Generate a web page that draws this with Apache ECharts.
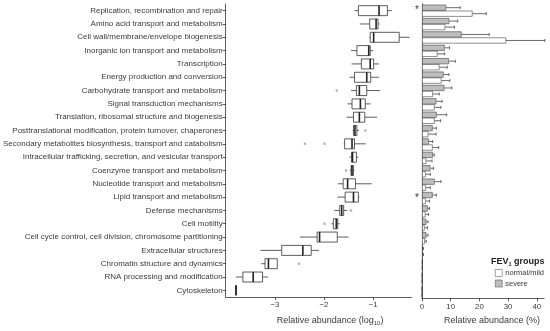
<!DOCTYPE html>
<html><head><meta charset="utf-8">
<script src="https://cdn.jsdelivr.net/npm/echarts@6/dist/echarts.min.js"></script>
<style>html,body{margin:0;padding:0;background:#fff}#c{width:550px;height:331px}</style>
</head><body><div id="c"></div>
<script>
const categories = [
 'Replication, recombination and repair','Amino acid transport and metabolism','Cell wall/membrane/envelope biogenesis',
 'Inorganic ion transport and metabolism','Transcription','Energy production and conversion',
 'Carbohydrate transport and metabolism','Signal transduction mechanisms','Translation, ribosomal structure and biogenesis',
 'Posttranslational modification, protein turnover, chaperones','Secondary metabolites biosynthesis, transport and catabolism',
 'Intracellular trafficking, secretion, and vesicular transport','Coenzyme transport and metabolism',
 'Nucleotide transport and metabolism','Lipid transport and metabolism','Defense mechanisms','Cell motility',
 'Cell cycle control, cell division, chromosome partitioning','Extracellular structures','Chromatin structure and dynamics',
 'RNA processing and modification','Cytoskeleton'];
// log10 relative abundance boxplot stats
const boxMin    = [-1.38,-1.27,-1.08,-1.45,-1.44,-1.48,-1.45,-1.52,-1.54,-1.42,-1.60,-1.48,-1.47,-1.72,-1.73,-1.79,-1.85,-2.49,-3.29,-3.28,-3.79,-3.79];
const boxQ1     = [-1.30,-1.07,-1.06,-1.33,-1.24,-1.38,-1.34,-1.43,-1.40,-1.40,-1.58,-1.44,-1.45,-1.61,-1.57,-1.68,-1.81,-2.14,-2.86,-3.20,-3.65,-3.79];
const boxMedian = [-0.88,-0.94,-0.99,-1.09,-1.06,-1.13,-1.28,-1.26,-1.28,-1.37,-1.43,-1.42,-1.43,-1.52,-1.40,-1.64,-1.75,-2.09,-2.43,-3.13,-3.44,-3.79];
const boxQ3     = [-0.71,-0.90,-0.47,-1.06,-0.99,-1.05,-1.13,-1.16,-1.17,-1.33,-1.38,-1.34,-1.40,-1.36,-1.30,-1.60,-1.72,-1.73,-2.26,-2.95,-3.25,-3.79];
const boxMax    = [-0.62,-0.87,-0.26,-1.00,-0.88,-0.88,-0.86,-1.05,-0.92,-1.29,-1.15,-1.30,-1.38,-1.03,-1.28,-1.53,-1.68,-1.50,-2.10,-2.95,-3.14,-3.79];
const outlierCat = [6, 9, 10, 10, 12, 15, 16, 19];
const outlierVal = [-1.74, -1.16, -2.39, -1.99, -1.55, -1.45, -1.99, -2.51];
// relative abundance (%) mean and mean+SD
const severeMean = [8.4, 9.5, 13.8, 7.9, 9.4, 7.5, 7.8, 5.0, 5.1, 3.7, 2.4, 3.8, 2.9, 4.4, 3.7, 2.0, 1.5, 1.5, 0.3, 0.1, 0.05, 0.02];
const severeErr  = [13.3, 12.4, 23.4, 9.6, 11.6, 9.4, 10.4, 7.0, 8.6, 5.0, 3.7, 4.3, 4.0, 6.6, 5.0, 2.6, 2.1, 2.1, 0.5, 0.15, 0.08, 0.03];
const normalMean = [17.6, 8.1, 29.3, 5.4, 6.1, 6.8, 3.8, 4.4, 4.4, 2.2, 3.7, 1.5, 1.3, 1.4, 1.3, 1.2, 0.9, 1.0, 0.3, 0.1, 0.05, 0.02];
const normalErr  = [22.4, 11.3, 42.8, 7.9, 8.8, 9.7, 6.0, 6.6, 6.5, 4.9, 5.8, 3.5, 2.9, 2.9, 2.6, 2.3, 1.9, 1.5, 0.5, 0.15, 0.08, 0.03];
const significant = [0, 14];
const logTicks = [-3, -2, -1];
const pctTicks = [0, 10, 20, 30, 40];

const FONT = 'Liberation Sans';
const TXT = '#3a3a3a';
const LINE = '#333';

const chart = echarts.init(document.getElementById('c'), null, {renderer: 'canvas'});

function boxRender(params, api) {
  const i = api.value(0);
  const band = api.size([0, 1])[1];
  const h = band * 0.75;
  const p = [1,2,3,4,5].map(k => api.coord([api.value(k), i])[0]);
  const yc = api.coord([api.value(1), i])[1];
  const st = {stroke: LINE, lineWidth: 0.8, fill: null};
  return {type: 'group', children: [
    {type: 'line', shape: {x1: p[0], y1: yc, x2: p[1], y2: yc}, style: st},
    {type: 'line', shape: {x1: p[3], y1: yc, x2: p[4], y2: yc}, style: st},
    {type: 'rect', shape: {x: p[1], y: yc - h/2, width: p[3] - p[1], height: h}, style: {fill: '#fff', stroke: LINE, lineWidth: 0.8}},
    {type: 'line', shape: {x1: p[2], y1: yc - h/2, x2: p[2], y2: yc + h/2}, style: {stroke: '#222', lineWidth: 1.6}}
  ]};
}

function errRender(params, api) {
  const i = api.value(0);
  const grp = api.value(3);
  const band = api.size([0, 1])[1];
  const off = band * 0.45 / 2 * (grp === 0 ? -1 : 1);
  const a = api.coord([api.value(1), i]);
  const b = api.coord([api.value(2), i]);
  const y = a[1] + off;
  const st = {stroke: '#444', lineWidth: 0.8};
  return {type: 'group', children: [
    {type: 'line', shape: {x1: a[0], y1: y, x2: b[0], y2: y}, style: st},
    {type: 'line', shape: {x1: b[0], y1: y - 1.5, x2: b[0], y2: y + 1.5}, style: st}
  ]};
}

const gridTop = 4, gridH = 294.4;

chart.setOption({
  animation: false,
  textStyle: {fontFamily: FONT},
  title: {
    text: 'FEV{s|1} groups', left: 491, top: 256, padding: 0,
    textStyle: {fontFamily: FONT, fontSize: 9, fontWeight: 'bold', color: '#222',
      rich: {s: {fontFamily: FONT, fontSize: 5.5, fontWeight: 'bold', color: '#222', padding: [5, 0, 0, 0]}}}
  },
  legend: {
    data: ['normal/mild', 'severe'], orient: 'vertical', left: 495, top: 269, padding: 0,
    itemWidth: 7, itemHeight: 7, itemGap: 2.5, icon: 'rect',
    itemStyle: {borderWidth: 0.5},
    textStyle: {fontFamily: FONT, fontSize: 7.5, color: TXT, padding: [0, 0, 0, -2]}
  },
  grid: [
    {left: 225, width: 186.5, top: gridTop, height: gridH},
    {left: 422, width: 122, top: gridTop, height: gridH}
  ],
  xAxis: [
    {gridIndex: 0, type: 'value', min: -4, max: -0.22,
     axisLine: {show: true, lineStyle: {color: LINE, width: 0.8}},
     axisTick: {show: true, length: 3, customValues: logTicks, lineStyle: {color: LINE, width: 0.8}},
     axisLabel: {customValues: logTicks, fontSize: 7.8, color: TXT, margin: 4, fontFamily: FONT,
       formatter: v => (v < 0 ? '\u2212' + Math.abs(v) : String(v))},
     splitLine: {show: false},
     name: 'Relative abundance (log{s|10})', nameLocation: 'middle', nameGap: 18,
     nameTextStyle: {fontFamily: FONT, fontSize: 9, color: TXT, padding: [0, 0, 0, 23],
       rich: {s: {fontFamily: FONT, fontSize: 6, color: TXT, padding: [5, 0, 0, 0]}}}},
    {gridIndex: 1, type: 'value', min: 0, max: 42.5,
     axisLine: {show: true, lineStyle: {color: LINE, width: 0.8}},
     axisTick: {show: true, length: 3, customValues: pctTicks, lineStyle: {color: LINE, width: 0.8}},
     axisLabel: {customValues: pctTicks, fontSize: 7.8, color: TXT, margin: 4, fontFamily: FONT},
     splitLine: {show: false},
     name: 'Relative abundance (%)', nameLocation: 'middle', nameGap: 18,
     nameTextStyle: {fontFamily: FONT, fontSize: 9, color: TXT, padding: [0, 0, 0, 18]}}
  ],
  yAxis: [
    {gridIndex: 0, type: 'category', data: categories, inverse: true,
     axisLine: {show: true, lineStyle: {color: LINE, width: 0.8}},
     axisTick: {show: true, length: 3, alignWithLabel: true, lineStyle: {color: LINE, width: 0.8}},
     axisLabel: {fontSize: 8, color: TXT, margin: 3, fontFamily: FONT, interval: 0}},
    {gridIndex: 1, type: 'category', data: categories, inverse: true,
     axisLine: {show: true, lineStyle: {color: LINE, width: 0.8}},
     axisTick: {show: false},
     axisLabel: {interval: 0, fontSize: 10, color: '#333', margin: 3, fontFamily: FONT,
       formatter: (v, idx) => (significant.includes(idx) ? '*' : '')}}
  ],
  series: [
    {type: 'custom', name: 'box', xAxisIndex: 0, yAxisIndex: 0, renderItem: boxRender,
     encode: {y: 0, x: [1, 2, 3, 4, 5]},
     data: categories.map((c, i) => [i, boxMin[i], boxQ1[i], boxMedian[i], boxQ3[i], boxMax[i]])},
    {type: 'scatter', name: 'outliers', xAxisIndex: 0, yAxisIndex: 0, symbolSize: 2.5,
     itemStyle: {color: '#9a9a9a'},
     data: outlierCat.map((c, k) => [outlierVal[k], c])},
    {type: 'bar', name: 'severe', xAxisIndex: 1, yAxisIndex: 1, data: severeMean,
     barCategoryGap: '10%', barGap: '0%',
     itemStyle: {color: '#bdbdbd', borderColor: '#444', borderWidth: 0.6}},
    {type: 'bar', name: 'normal/mild', xAxisIndex: 1, yAxisIndex: 1, data: normalMean,
     barCategoryGap: '10%', barGap: '0%',
     itemStyle: {color: '#ffffff', borderColor: '#444', borderWidth: 0.6}},
    {type: 'custom', name: 'err', xAxisIndex: 1, yAxisIndex: 1, renderItem: errRender,
     encode: {y: 0, x: [1, 2]}, z: 3,
     data: categories.map((c, i) => [i, severeMean[i], severeErr[i], 0])
       .concat(categories.map((c, i) => [i, normalMean[i], normalErr[i], 1]))}
  ]
});
</script></body></html>
